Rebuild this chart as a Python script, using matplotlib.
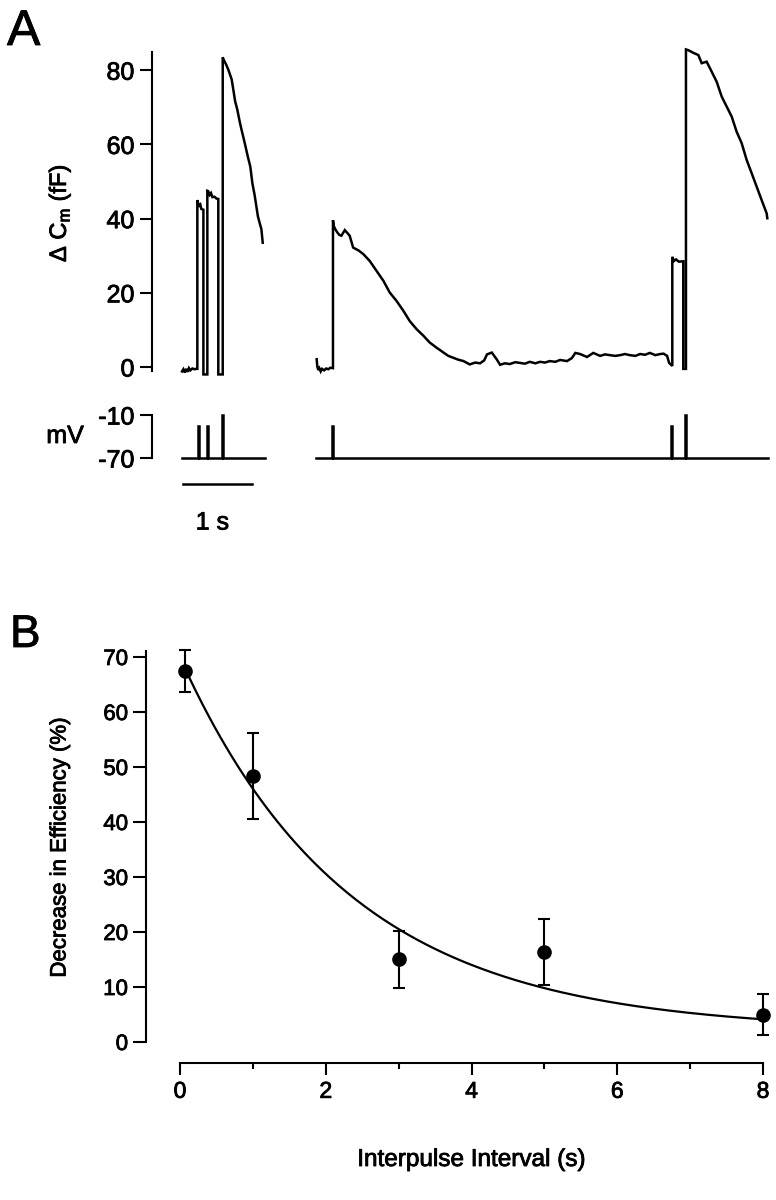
import numpy as np
import matplotlib
matplotlib.use("Agg")
import matplotlib.pyplot as plt
import matplotlib.patheffects as pe
from matplotlib.text import Text

plt.rcParams["font.family"] = ["Liberation Sans", "DejaVu Sans"]
plt.rcParams["mathtext.fontset"] = "custom"
plt.rcParams["mathtext.rm"] = "Liberation Sans"
plt.rcParams["mathtext.it"] = "Liberation Sans:italic"

# ---- Panel A: capacitance sweeps (time in s, delta Cm in fF) ----
SWEEP1_T = [0.00, 0.02, 0.04, 0.06, 0.08, 0.10, 0.12, 0.15, 0.18, 0.20, 0.222,
            0.222, 0.235, 0.25, 0.265, 0.28, 0.31, 0.31, 0.367,
            0.367, 0.38, 0.40, 0.42, 0.44, 0.47, 0.50, 0.526, 0.526, 0.59,
            0.59, 0.61, 0.64, 0.67, 0.70, 0.72, 0.75, 0.77, 0.80, 0.84, 0.87,
            0.91, 0.95, 0.99, 1.02, 1.05, 1.08, 1.10, 1.13, 1.15, 1.17]
SWEEP1_FF = [-1.2, -0.6, -1.5, -0.5, -1.3, -0.3, -0.9, -0.4, -0.6, -0.5, -0.5,
             45.0, 44.0, 43.5, 43.8, 42.6, 42.4, -2.0, -2.0,
             47.5, 47.4, 46.4, 46.9, 45.8, 45.9, 45.4, 45.3, -2.0, -2.0,
             83.5, 82.6, 81.5, 80.2, 78.6, 77.5, 74.0, 71.6, 69.5, 65.8, 63.4,
             60.3, 57.0, 54.0, 49.5, 46.6, 43.0, 40.6, 38.5, 37.2, 33.5]

SWEEP2_T = [1.952, 1.96, 1.975, 1.99, 2.01, 2.03, 2.06, 2.09, 2.12, 2.15, 2.188,
            2.188, 2.20, 2.22, 2.25, 2.28, 2.31, 2.36, 2.43, 2.48, 2.56, 2.63,
            2.72, 2.82, 2.92, 3.01, 3.11, 3.21, 3.30, 3.40, 3.50, 3.59, 3.69,
            3.79, 3.86, 3.93, 4.00, 4.08, 4.17, 4.25, 4.32, 4.38, 4.42, 4.49,
            4.56, 4.61, 4.68, 4.75, 4.83, 4.90, 4.97, 5.04, 5.12, 5.19, 5.26,
            5.33, 5.41, 5.48, 5.58, 5.65, 5.70, 5.77, 5.87, 5.96, 6.06, 6.13,
            6.20, 6.28, 6.35, 6.42, 6.49, 6.57, 6.64, 6.71, 6.78, 6.86, 6.93,
            6.98, 7.03, 7.06, 7.106,
            7.106, 7.13, 7.16, 7.20, 7.265, 7.265, 7.304,
            7.304, 7.338, 7.41, 7.483, 7.532, 7.604, 7.677, 7.749, 7.822,
            7.894, 7.967, 8.039, 8.112, 8.184, 8.257, 8.329, 8.401, 8.474, 8.483]
SWEEP2_FF = [2.1, 0.2, -0.8, -0.3, -1.2, -0.5, -0.9, -0.4, -0.6, -0.2, -0.3,
             39.6, 38.0, 37.2, 36.3, 35.6, 35.4, 36.9, 35.4, 32.2, 31.4, 30.4,
             28.6, 25.9, 23.2, 20.1, 17.8, 15.1, 12.4, 10.2, 8.4, 6.6, 5.2,
             3.9, 3.0, 2.5, 2.0, 1.6, 0.7, 1.2, 1.0, 1.8, 3.4, 3.9,
             2.1, 0.6, 1.0, 0.8, 1.3, 1.1, 0.9, 1.4, 1.0, 1.4, 1.2,
             1.6, 1.4, 1.9, 1.6, 2.4, 3.8, 3.5, 2.7, 3.8, 3.0, 3.4,
             3.2, 3.0, 3.2, 3.5, 3.2, 3.0, 3.5, 3.3, 3.8, 3.2, 3.5,
             3.6, 3.0, 1.1, 0.3,
             29.7, 28.6, 29.0, 28.4, 28.5, -0.5, -0.5,
             85.6, 85.4, 84.7, 84.1, 81.9, 82.3, 79.6, 76.9, 72.9,
             70.2, 67.5, 63.4, 60.3, 55.8, 52.2, 48.6, 45.0, 41.4, 40.1]

# voltage protocol (mV): holding potential and pulses
HOLD_MV = -70
V_SWEEP1_SPAN = (0.0, 1.20)
V_SWEEP1_PULSES = [0.232, 0.362, 0.575]
V_SWEEP1_LEVELS = [-25, -25, -10]
V_SWEEP2_SPAN = (1.942, 8.497)
V_SWEEP2_PULSES = [2.178, 7.087, 7.290]
V_SWEEP2_LEVELS = [-25, -25, -10]
SCALE_BAR_S = 1.0

CM_TICKS = [0, 20, 40, 60, 80]
MV_TICKS = [-70, -10]
MV_TICKLABELS = ["-70", "-10"]

# ---- Panel B: decrease in efficiency vs interpulse interval ----
INTERVAL_S = [0.07, 1, 3, 5, 8]
DECREASE_PCT = [67.5, 48.4, 15.0, 16.4, 5.0]
SEM_PCT = [3.8, 7.8, 5.2, 6.0, 3.7]
FIT_A, FIT_TAU, FIT_C = 67.9, 2.31, 2.0
B_XTICKS = [0, 2, 4, 6, 8]
B_XMINOR = [1, 3, 5, 7]
B_YTICKS = [0, 10, 20, 30, 40, 50, 60, 70]

W, H = 776, 1200


def box(left, top, right, bottom):
    """pixel box -> figure fraction rect"""
    return [left / W, 1 - bottom / H, (right - left) / W, (bottom - top) / H]


def pulse_trace(span, pulses, levels, hold=HOLD_MV, dur=0.015):
    t, v = [span[0]], [hold]
    for p, lv in zip(pulses, levels):
        t += [p, p, p + dur, p + dur]
        v += [hold, lv, lv, hold]
    t.append(span[1])
    v.append(hold)
    return t, v


fig = plt.figure(figsize=(W / 100, H / 100), dpi=100)
fig.patch.set_facecolor("white")

lw = 1.8
xlim_a = (-0.435, 8.609)

# capacitance axes
ax_cm = fig.add_axes(box(152, 45, 776, 380))
ax_cm.plot(SWEEP1_T, SWEEP1_FF, color="k", lw=lw, solid_joinstyle="miter")
ax_cm.plot(SWEEP2_T, SWEEP2_FF, color="k", lw=lw, solid_joinstyle="miter")
ax_cm.set_xlim(*xlim_a)
ax_cm.set_ylim(-3.5, 86.8)
for s in ["top", "right", "bottom"]:
    ax_cm.spines[s].set_visible(False)
ax_cm.spines["left"].set_bounds(-1.0, 85)
ax_cm.spines["left"].set_linewidth(1.5)
ax_cm.set_xticks([])
ax_cm.set_yticks(CM_TICKS)
ax_cm.tick_params(axis="y", length=8.6, width=1.5, pad=4, labelsize=18)

# voltage axes
ax_v = fig.add_axes(box(152, 395, 776, 545))
for span, pulses, levels in [(V_SWEEP1_SPAN, V_SWEEP1_PULSES, V_SWEEP1_LEVELS),
                             (V_SWEEP2_SPAN, V_SWEEP2_PULSES, V_SWEEP2_LEVELS)]:
    t, v = pulse_trace(span, pulses, levels)
    ax_v.plot(t, v, color="k", lw=lw, solid_joinstyle="miter")
ax_v.plot([0.015, 0.015 + SCALE_BAR_S], [-106.3, -106.3], color="k", lw=lw)
ax_v.text(0.44, -160, "1 s", ha="center", va="center", fontsize=18)
ax_v.set_xlim(*xlim_a)
ax_v.set_ylim(-191.4, 17.9)
for s in ["top", "right", "bottom"]:
    ax_v.spines[s].set_visible(False)
ax_v.spines["left"].set_bounds(-70, -10)
ax_v.spines["left"].set_linewidth(1.5)
ax_v.set_xticks([])
ax_v.set_yticks(MV_TICKS)
ax_v.set_yticklabels(MV_TICKLABELS)
ax_v.tick_params(axis="y", length=8.6, width=1.5, pad=4, labelsize=18)

fig.text(60 / W, 1 - 213 / H, "Δ C$_\\mathrm{m}$ (fF)", rotation=90,
         ha="center", va="center", fontsize=17)
fig.text(65 / W, 1 - 436 / H, "mV", ha="center", va="center", fontsize=18)
fig.text(7 / W, 1 - 45 / H, "A", ha="left", va="baseline", fontsize=36)

# panel B
ax_b = fig.add_axes(box(146, 640, 776, 1063))
xs = np.linspace(INTERVAL_S[0], INTERVAL_S[-1], 200)
ax_b.plot(xs, FIT_C + FIT_A * np.exp(-xs / FIT_TAU), color="k", lw=1.6)
ax_b.errorbar(INTERVAL_S, DECREASE_PCT, yerr=SEM_PCT, fmt="o", color="k",
              ms=9.5, capsize=4.5, elinewidth=1.5, capthick=1.5, zorder=3)
ax_b.set_xlim(-0.4666, 8.178)
ax_b.set_ylim(-3.818, 73.09)
for s in ["top", "right"]:
    ax_b.spines[s].set_visible(False)
ax_b.spines["left"].set_bounds(0, 71.1)
ax_b.spines["bottom"].set_bounds(0, 8)
ax_b.spines["left"].set_linewidth(1.5)
ax_b.spines["bottom"].set_linewidth(1.5)
ax_b.set_xticks(B_XTICKS)
ax_b.set_xticks(B_XMINOR, minor=True)
ax_b.set_yticks(B_YTICKS)
ax_b.tick_params(axis="y", length=9.4, width=1.5, pad=3.5, labelsize=16)
ax_b.tick_params(axis="x", which="major", length=8.6, width=1.5, pad=3.5,
                 labelsize=16.5)
ax_b.tick_params(axis="x", which="minor", length=4.3, width=1.5)

fig.text(60 / W, 1 - 847 / H, "Decrease in Efficiency (%)", rotation=90,
         ha="center", va="center", fontsize=16)
fig.text(471 / W, 1 - 1160 / H, "Interpulse Interval (s)", ha="center",
         va="center", fontsize=17.5)
fig.text(10 / W, 1 - 647 / H, "B", ha="left", va="baseline", fontsize=33)

# heavier print look for the lettering
for txt in fig.findobj(Text):
    txt.set_path_effects([pe.withStroke(linewidth=0.6, foreground="k")])

fig.savefig("out.png", dpi=100)
